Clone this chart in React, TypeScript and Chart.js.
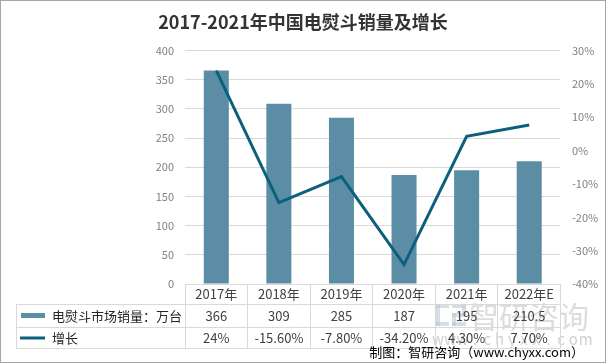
import React, { useEffect, useRef } from "react";
import { Chart, registerables } from "chart.js";

Chart.register(...registerables);

const titleText = "2017-2021年中国电熨斗销量及增长";
const sourceText = "制图：智研咨询（www.chyxx.com）";
const categories = ["2017年", "2018年", "2019年", "2020年", "2021年", "2022年E"];
const seriesNames = ["电熨斗市场销量：万台", "增长"];
const sales = [366, 309, 285, 187, 195, 210.5];
const growth = [24, -15.6, -7.8, -34.2, 4.3, 7.7];
const salesLabels = ["366", "309", "285", "187", "195", "210.5"];
const growthLabels = ["24%", "-15.60%", "-7.80%", "-34.20%", "4.30%", "7.70%"];
const leftTicks = { min: 0, max: 400, step: 50 };
const rightTicks = { min: -40, max: 30, step: 10 };

const FONT = '"Noto Sans CJK SC", "Noto Sans", sans-serif';
const BAR_COLOR = "#5b8ea5";
const LINE_COLOR = "#0d5f7e";
const GRID = "#d9d9d9";

const tablePlugin = {
  id: "tablePlugin",
  afterDraw(chart: any) {
    const ctx = chart.ctx as CanvasRenderingContext2D;
    const area = chart.chartArea;
    const xs = chart.scales.x;
    const colW = xs.getPixelForValue(1) - xs.getPixelForValue(0);
    const top = area.bottom;
    const r1 = top + 20;
    const r2 = top + 43;
    const r3 = top + 64;
    const tableLeft = 16;
    const al = (v: number) => Math.round(v) + 0.5;

    ctx.save();
    // watermark
    ctx.globalAlpha = 0.55;
    ctx.fillStyle = "#c0c0c0";
    ctx.font = `30px ${FONT}`;
    ctx.textBaseline = "middle";
    ctx.textAlign = "left";
    ctx.fillText("智研咨询", 469, 317);
    ctx.fillStyle = "#b8c2d6";
    ctx.fillRect(436, 304, 13, 4);
    ctx.fillRect(436, 304, 4, 22);
    ctx.fillRect(436, 322, 13, 4);
    ctx.fillRect(452, 304, 14, 4);
    ctx.fillRect(462, 304, 4, 12);
    ctx.fillRect(452, 313, 14, 4);
    ctx.fillRect(452, 313, 4, 13);
    ctx.fillRect(452, 322, 14, 4);
    ctx.globalAlpha = 0.8;
    ctx.fillStyle = "#c4c4c4";
    ctx.font = `15px ${FONT}`;
    ctx.textAlign = "center";
    const wm = "www.chyxx.com";
    for (let i = 0; i < wm.length; i++) {
      ctx.fillText(wm[i], 438 + i * 12.3, 339);
    }
    ctx.globalAlpha = 1;

    // table lines
    ctx.strokeStyle = GRID;
    ctx.lineWidth = 1;
    ctx.beginPath();
    const colEdges: number[] = [];
    for (let i = 0; i <= categories.length; i++) colEdges.push(area.left + i * colW);
    ctx.moveTo(area.left, al(top));
    ctx.lineTo(area.right, al(top));
    [r1, r2, r3].forEach((y) => {
      ctx.moveTo(tableLeft, al(y));
      ctx.lineTo(area.right, al(y));
    });
    colEdges.forEach((x) => {
      ctx.moveTo(al(x - 0.5), top);
      ctx.lineTo(al(x - 0.5), r3);
    });
    ctx.moveTo(al(tableLeft), r1);
    ctx.lineTo(al(tableLeft), r3);
    ctx.stroke();

    // header and values
    ctx.fillStyle = "#404040";
    ctx.font = `13px ${FONT}`;
    ctx.textAlign = "center";
    ctx.textBaseline = "middle";
    categories.forEach((c, i) => {
      const x = xs.getPixelForValue(i);
      ctx.fillText(c, x, (top + r1) / 2 + 0.5);
      ctx.fillText(salesLabels[i], x, (r1 + r2) / 2 + 0.5);
      ctx.fillText(growthLabels[i], x, (r2 + r3) / 2 + 0.5);
    });

    // row legends
    ctx.fillStyle = BAR_COLOR;
    ctx.fillRect(21, (r1 + r2) / 2 - 2.5, 24, 5);
    ctx.strokeStyle = LINE_COLOR;
    ctx.lineWidth = 3;
    ctx.beginPath();
    ctx.moveTo(20, (r2 + r3) / 2 + 0.5);
    ctx.lineTo(45, (r2 + r3) / 2 + 0.5);
    ctx.stroke();
    ctx.fillStyle = "#262626";
    ctx.textAlign = "left";
    ctx.fillText(seriesNames[0], 52, (r1 + r2) / 2 + 0.5);
    ctx.fillText(seriesNames[1], 52, (r2 + r3) / 2 + 0.5);

    // title
    ctx.fillStyle = "#333333";
    ctx.font = `bold 18px ${FONT}`;
    ctx.textAlign = "center";
    ctx.fillText(titleText, 303, 22);

    // source
    ctx.fillStyle = "#000000";
    ctx.font = `13px ${FONT}`;
    ctx.textAlign = "right";
    ctx.fillText(sourceText, 584, 352);

    // border
    ctx.strokeStyle = "#a6a6a6";
    ctx.lineWidth = 1;
    ctx.strokeRect(0.5, 0.5, 605, 362);
    ctx.restore();
  },
};

export default function App() {
  const ref = useRef<HTMLCanvasElement>(null);
  useEffect(() => {
    document.body.style.margin = "0";
    if (!ref.current) return;
    const chart = new Chart(ref.current, {
      type: "bar",
      data: {
        labels: categories,
        datasets: [
          {
            type: "line",
            label: seriesNames[1],
            data: growth,
            yAxisID: "y1",
            borderColor: LINE_COLOR,
            backgroundColor: LINE_COLOR,
            borderWidth: 3,
            pointRadius: 0,
            tension: 0,
            order: 0,
          } as any,
          {
            type: "bar",
            label: seriesNames[0],
            data: sales,
            yAxisID: "y",
            backgroundColor: BAR_COLOR,
            categoryPercentage: 0.8,
            barPercentage: 0.5,
            order: 1,
          },
        ],
      },
      options: {
        responsive: false,
        animation: false,
        devicePixelRatio: 1,
        layout: { padding: { top: 50.6, bottom: 80, left: 0, right: 0 } },
        plugins: {
          legend: { display: false },
          title: { display: false },
          tooltip: { enabled: false },
        },
        scales: {
          x: { display: false, offset: true },
          y: {
            position: "left",
            min: leftTicks.min,
            max: leftTicks.max,
            border: { display: false },
            grid: { color: GRID, drawTicks: false },
            ticks: {
              stepSize: leftTicks.step,
              padding: 11,
              color: "#808080",
              font: { family: FONT, size: 11 },
            },
            afterFit(scale: any) {
              scale.width = 185;
            },
          },
          y1: {
            position: "right",
            min: rightTicks.min,
            max: rightTicks.max,
            border: { display: false },
            grid: { display: false, drawTicks: false },
            ticks: {
              stepSize: rightTicks.step,
              padding: 11.5,
              color: "#808080",
              font: { family: FONT, size: 11 },
              callback: (v: any) => `${Math.round(Number(v))}%`,
            },
            afterFit(scale: any) {
              scale.width = 45.5;
            },
          },
        },
      },
      plugins: [tablePlugin],
    });
    return () => chart.destroy();
  }, []);
  return (
    <div style={{ position: "absolute", left: 0, top: 0, width: 606, height: 364, background: "#fff" }}>
      <canvas ref={ref} width={606} height={364} style={{ display: "block" }} />
    </div>
  );
}
